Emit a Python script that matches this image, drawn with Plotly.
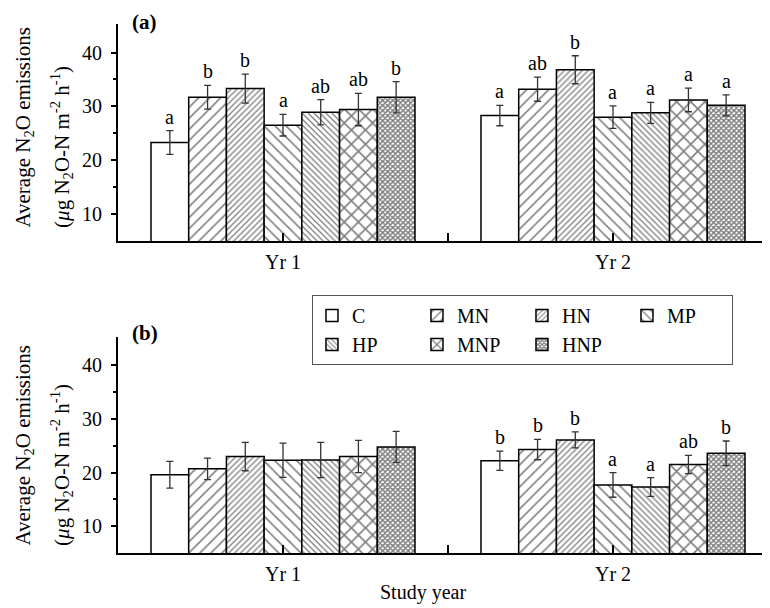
import plotly.graph_objects as go

years = ["Yr 1", "Yr 2"]
treatments = ["C", "MN", "HN", "MP", "HP", "MNP", "HNP"]

# Panel (a)
a_mean_yr1 = [23.3, 31.7, 33.3, 26.5, 28.9, 29.4, 31.7]
a_err_yr1 = [2.2, 2.2, 2.7, 2.0, 2.35, 3.0, 2.9]
a_mean_yr2 = [28.3, 33.2, 36.8, 28.0, 28.8, 31.2, 30.2]
a_err_yr2 = [1.9, 2.25, 2.6, 2.1, 1.95, 2.2, 1.95]
a_letters_yr1 = ["a", "b", "b", "a", "ab", "ab", "b"]
a_letters_yr2 = ["a", "ab", "b", "a", "a", "a", "a"]

# Panel (b)
b_mean_yr1 = [19.6, 20.7, 23.0, 22.3, 22.35, 23.0, 24.8]
b_err_yr1 = [2.5, 2.0, 2.65, 3.2, 3.3, 3.0, 2.9]
b_mean_yr2 = [22.2, 24.3, 26.1, 17.7, 17.3, 21.5, 23.6]
b_err_yr2 = [1.8, 1.9, 1.5, 2.3, 1.75, 1.7, 2.3]
b_letters_yr1 = ["", "", "", "", "", "", ""]
b_letters_yr2 = ["b", "b", "b", "a", "a", "ab", "b"]

# styles
pat_shape = ["", "/", "/", "\\", "\\", "x", "x"]
pat_size = [8, 7.8, 4.2, 7.8, 4.2, 10, 3.6]
pat_solid = [0.1, 0.2, 0.3, 0.2, 0.3, 0.3, 0.65]
leg_group = ["g1", "g2", "g3", "g4", "g1", "g2", "g3"]

FONT = "Liberation Serif"
x_pos = [0, 1]
n = len(treatments)
group_w = 0.8

fig = go.Figure()

panels = [
    ("x", "y", a_mean_yr1, a_err_yr1, a_mean_yr2, a_err_yr2, a_letters_yr1, a_letters_yr2, True),
    ("x2", "y2", b_mean_yr1, b_err_yr1, b_mean_yr2, b_err_yr2, b_letters_yr1, b_letters_yr2, False),
]

annotations = []
for xa, ya, m1, e1, m2, e2, l1, l2, showleg in panels:
    for i, t in enumerate(treatments):
        fig.add_trace(go.Bar(
            x=x_pos, y=[m1[i], m2[i]], name=t, xaxis=xa, yaxis=ya,
            legendgroup=leg_group[i], showlegend=showleg,
            marker=dict(color="white", line=dict(color="black", width=1.5),
                        pattern=dict(shape=pat_shape[i], size=pat_size[i], solidity=pat_solid[i],
                                     fgcolor="black", bgcolor="white", fillmode="overlay")),
            error_y=dict(type="data", array=[e1[i], e2[i]], color="#333", thickness=1.3, width=3.5),
        ))
        off = (i - (n - 1) / 2) * group_w / n
        for k, (mm, ee, ll) in enumerate([(m1, e1, l1), (m2, e2, l2)]):
            if ll[i]:
                annotations.append(dict(
                    x=x_pos[k] + off, y=mm[i] + ee[i], xref=xa, yref=ya, text=ll[i],
                    showarrow=False, xanchor="center", yanchor="bottom", yshift=1,
                    font=dict(family=FONT, size=20, color="black")))

ytitle1 = "Average N<sub>2</sub>O emissions"
ytitle2 = "(<i>μ</i>g N<sub>2</sub>O-N m<sup>-2</sup> h<sup>-1</sup>)"

for ybot in [0.6106, 0.0095]:
    annotations.append(dict(x=-0.144, y=ybot, xref="paper", yref="paper", text=ytitle1,
                            textangle=-90, showarrow=False, xanchor="center", yanchor="bottom",
                            font=dict(family=FONT, size=21, color="black")))
    annotations.append(dict(x=-0.086, y=ybot, xref="paper", yref="paper", text=ytitle2,
                            textangle=-90, showarrow=False, xanchor="center", yanchor="bottom",
                            font=dict(family=FONT, size=21, color="black")))

annotations.append(dict(x=0.0414, y=1.0038, xref="paper", yref="paper", text="<b>(a)</b>",
                        showarrow=False, xanchor="center", yanchor="middle",
                        font=dict(family=FONT, size=21, color="black")))
annotations.append(dict(x=0.0414, y=0.4159, xref="paper", yref="paper", text="<b>(b)</b>",
                        showarrow=False, xanchor="center", yanchor="middle",
                        font=dict(family=FONT, size=21, color="black")))
annotations.append(dict(x=0.468, y=-0.0756, xref="paper", yref="paper", text="Study year",
                        showarrow=False, xanchor="center", yanchor="middle",
                        font=dict(family=FONT, size=20, color="black")))

xaxis_common = dict(
    range=[-0.5, 1.4758], tickvals=[0, 0.5, 1], ticktext=[years[0], "", years[1]],
    ticks="inside", ticklen=8, tickwidth=1.5, tickcolor="black",
    showline=True, linecolor="black", linewidth=2, showgrid=False, zeroline=False,
    tickfont=dict(family=FONT, size=20, color="black"), ticklabelstandoff=2,
)
yaxis_common = dict(
    range=[5, 45.3], tickvals=[10, 20, 30, 40], ticks="outside", ticklen=5, tickwidth=1.5,
    tickcolor="black", showline=True, linecolor="black", linewidth=2, showgrid=False,
    zeroline=False, tickfont=dict(family=FONT, size=20, color="black"), ticklabelstandoff=5,
    minor=dict(tickvals=[15, 25, 35], ticks="outside", ticklen=3, tickwidth=1.5, tickcolor="black"),
)

fig.update_layout(
    width=762, height=600,
    margin=dict(l=110, r=0, t=16, b=55),
    paper_bgcolor="white", plot_bgcolor="white",
    barmode="group", bargap=0.2, bargroupgap=0,
    xaxis=dict(domain=[0, 1], anchor="y", **xaxis_common),
    yaxis=dict(domain=[0.5898, 1], anchor="x", **yaxis_common),
    xaxis2=dict(domain=[0, 1], anchor="y2", **xaxis_common),
    yaxis2=dict(domain=[0, 0.4083], anchor="x2", **yaxis_common),
    legend=dict(orientation="h", traceorder="grouped", x=0.2975, y=0.4877,
                xanchor="left", yanchor="top", bordercolor="#555", borderwidth=1,
                bgcolor="white", font=dict(family=FONT, size=20, color="black"),
                tracegroupgap=0, entrywidth=60, itemclick=False, itemdoubleclick=False),
    annotations=annotations,
    showlegend=True,
)

fig.write_html("out.html")
